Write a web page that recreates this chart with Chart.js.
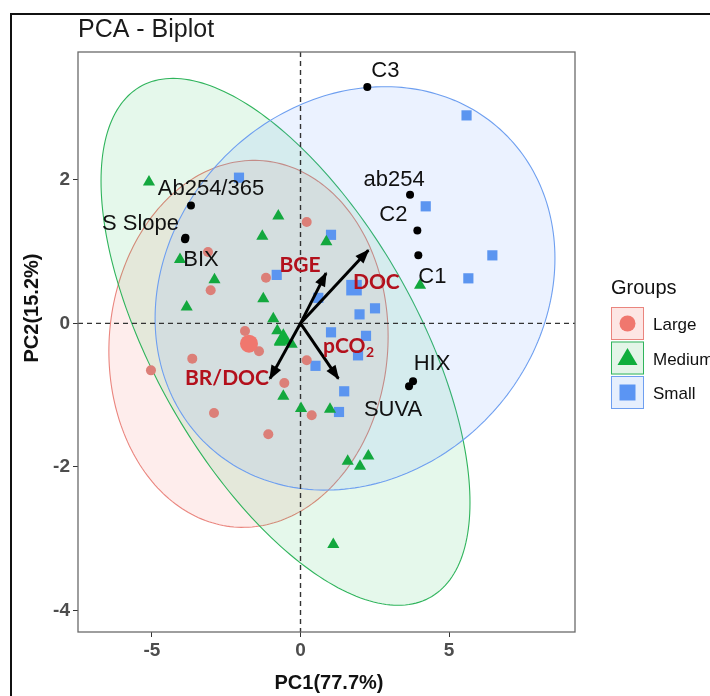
<!DOCTYPE html>
<html><head><meta charset="utf-8">
<script src="https://cdn.jsdelivr.net/npm/chart.js@4.4.0/dist/chart.umd.min.js"></script>
<style>html,body{margin:0;padding:0;background:#fff;}canvas{display:block;}</style>
</head><body>
<canvas id="c" width="710" height="696"></canvas>
<script>
// ---------- data (PC1, PC2 scores) ----------
const groupNames = ['Large', 'Medium', 'Small'];

const largeX = [0.209, -1.162, -3.024, -3.114, -1.869, -1.397, -3.643, -5.034, -0.545, -2.912, -1.084, 0.209, 0.377];
const largeY = [1.411, 0.636, 0.460, 0.993, -0.107, -0.390, -0.492, -0.655, -0.831, -1.249, -1.546, -0.515, -1.281];

const mediumX = [-5.101, -0.747, -1.286, 0.869, -4.057, -2.896, -1.253, -3.832, -0.916, -0.781, -0.690, -0.296, -0.579, 0.017, 0.993, 1.589, 2.003, 2.283, 1.104, 4.024];
const mediumY = [1.968, 1.494, 1.212, 1.135, 0.891, 0.606, 0.344, 0.227, 0.065, -0.104, -0.265, -0.292, -1.017, -1.188, -1.198, -1.922, -1.992, -1.848, -3.082, 0.529];

const smallX = [-2.071, -0.801, 1.027, 0.599, 5.589, 4.215, 6.458, 5.650, 2.508, 1.987, 1.027, 2.205, 1.936, 0.505, 1.471, 1.296];
const smallY = [2.029, 0.675, 1.233, 0.355, 2.897, 1.630, 0.947, 0.627, 0.209, 0.125, -0.125, -0.174, -0.446, -0.592, -0.947, -1.235];

// group means (large markers)
const meanX = [-1.734, -0.579, 1.801];
const meanY = [-0.283, -0.223, 0.497];

// concentration ellipses: centre, half-extent along PC1 / PC2, correlation
const ellCX = [-1.751, -0.505, 1.835];
const ellCY = [-0.286, -0.258, 0.487];
const ellSX = [4.70, 6.21, 6.73];
const ellSY = [2.556, 3.67, 2.81];
const ellR  = [0.04, -0.61, 0.149];

// variables shown as points
const varNames = ['C3', 'ab254', 'C2', 'C1', 'HIX', 'SUVA', 'Ab254/365', 'S Slope', 'BIX'];
const varX = [2.249, 3.687, 3.933, 3.966, 3.788, 3.653, -3.687, -3.872, -3.889];
const varY = [3.291, 1.792, 1.295, 0.947, -0.808, -0.877, 1.643, 1.191, 1.170];

// variables shown as arrows
const arrowNames = ['BGE', 'DOC', 'BR/DOC', 'pCO2'];
const arrowX = [0.859, 2.283, -1.027, 1.273];
const arrowY = [0.700, 1.017, -0.770, -0.770];

// axis ticks
const xTickValues = [-5, 0, 5];
const yTickValues = [-4, -2, 0, 2];

// ---------- styling (not data) ----------
const varLabelOffsets = [[18,-16],[-16,-15],[-24,-15],[14,22],[19,-17],[-16,24],[20,-16],[-45,-14],[16,21]];
const arrowLabelOffsets = [[-26,-8],[8,32],[-43,0],[10,-32]];
const ptColors = ['#dc7f78', '#13a83e', '#5b95f0'];
const meanColors = ['#f0776e', '#0fae3c', '#5b95f3'];
const ellFill = ['rgba(248,118,109,0.13)', 'rgba(0,186,56,0.10)', 'rgba(97,156,255,0.13)'];
const ellStroke = ['#ea857e', '#2fb45c', '#6e9ff0'];
const keyFill = ['#fde6e4', '#e3f5e8', '#e6effd'];
const styles = ['circle', 'triangle', 'rect'];
const ptRad = [5, 7, 7.2];
const meanRad = [9, 11, 11];
const SANS = '"Liberation Sans", Arial, sans-serif';

function pts(xs, ys) { return xs.map((v, i) => ({x: v, y: ys[i]})); }

const datasets = [];
const grpX = [largeX, mediumX, smallX], grpY = [largeY, mediumY, smallY];
for (let g = 0; g < 3; g++) {
  datasets.push({type: 'scatter', label: groupNames[g], data: pts(grpX[g], grpY[g]),
    pointStyle: styles[g], pointRadius: ptRad[g], backgroundColor: ptColors[g], borderWidth: 0, order: 5});
}
for (let g = 0; g < 3; g++) {
  datasets.push({type: 'scatter', label: groupNames[g] + ' mean', data: [{x: meanX[g], y: meanY[g]}],
    pointStyle: styles[g], pointRadius: meanRad[g], backgroundColor: meanColors[g], borderWidth: 0, order: 4});
}
arrowNames.forEach((n, i) => {
  datasets.push({type: 'line', label: n, data: [{x: 0, y: 0}, {x: arrowX[i], y: arrowY[i]}],
    borderColor: '#000', borderWidth: 3, pointRadius: 0, fill: false, order: 2});
});
datasets.push({type: 'scatter', label: 'variables', data: pts(varX, varY), pointStyle: 'circle',
  pointRadius: 4, backgroundColor: '#000', borderWidth: 0, order: 1});

const biplot = {
  id: 'biplot',
  beforeDatasetsDraw(chart) {
    const {ctx, chartArea: a, scales: {x, y}} = chart;
    ctx.save();
    ctx.beginPath(); ctx.rect(a.left, a.top, a.right - a.left, a.bottom - a.top); ctx.clip();
    for (let g = 0; g < 3; g++) {
      ctx.beginPath();
      const q = Math.sqrt(1 - ellR[g] * ellR[g]);
      for (let i = 0; i <= 240; i++) {
        const t = i / 240 * 2 * Math.PI;
        const ex = ellCX[g] + ellSX[g] * Math.cos(t);
        const ey = ellCY[g] + ellSY[g] * (ellR[g] * Math.cos(t) + q * Math.sin(t));
        const px = x.getPixelForValue(ex), py = y.getPixelForValue(ey);
        if (i) ctx.lineTo(px, py); else ctx.moveTo(px, py);
      }
      ctx.closePath();
      ctx.fillStyle = ellFill[g]; ctx.fill();
      ctx.strokeStyle = ellStroke[g]; ctx.lineWidth = 1.1; ctx.stroke();
    }
    const x0 = x.getPixelForValue(0), y0 = y.getPixelForValue(0);
    ctx.setLineDash([5, 4]); ctx.strokeStyle = '#333'; ctx.lineWidth = 1.4;
    ctx.beginPath();
    ctx.moveTo(x0, a.top); ctx.lineTo(x0, a.bottom);
    ctx.moveTo(a.left, y0); ctx.lineTo(a.right, y0);
    ctx.stroke();
    ctx.restore();
  },
  afterDatasetsDraw(chart) {
    const {ctx, scales: {x, y}} = chart;
    ctx.save();
    const ox = x.getPixelForValue(0), oy = y.getPixelForValue(0);
    // arrow heads
    arrowNames.forEach((n, i) => {
      const tx = x.getPixelForValue(arrowX[i]), ty = y.getPixelForValue(arrowY[i]);
      const ang = Math.atan2(ty - oy, tx - ox);
      const L = 13, W = 5.5;
      ctx.beginPath();
      ctx.moveTo(tx + 1.5 * Math.cos(ang), ty + 1.5 * Math.sin(ang));
      ctx.lineTo(tx - L * Math.cos(ang) + W * Math.sin(ang), ty - L * Math.sin(ang) - W * Math.cos(ang));
      ctx.lineTo(tx - L * Math.cos(ang) - W * Math.sin(ang), ty - L * Math.sin(ang) + W * Math.cos(ang));
      ctx.closePath(); ctx.fillStyle = '#000'; ctx.fill();
    });
    // variable labels
    ctx.fillStyle = '#111'; ctx.font = '22px ' + SANS; ctx.textAlign = 'center'; ctx.textBaseline = 'middle';
    varNames.forEach((n, i) => {
      ctx.fillText(n, x.getPixelForValue(varX[i]) + varLabelOffsets[i][0], y.getPixelForValue(varY[i]) + varLabelOffsets[i][1]);
    });
    // arrow labels
    ctx.fillStyle = '#b3101c';
    arrowNames.forEach((n, i) => {
      const cx = x.getPixelForValue(arrowX[i]) + arrowLabelOffsets[i][0];
      const cy = y.getPixelForValue(arrowY[i]) + arrowLabelOffsets[i][1];
      if (n === 'pCO2') {
        ctx.font = 'bold 21px Lato, ' + SANS;
        const w1 = ctx.measureText('pCO').width;
        ctx.font = 'bold 14px Lato, ' + SANS;
        const w2 = ctx.measureText('2').width;
        const left = cx - (w1 + w2) / 2;
        ctx.textAlign = 'left';
        ctx.font = 'bold 21px Lato, ' + SANS; ctx.fillText('pCO', left, cy);
        ctx.font = 'bold 14px Lato, ' + SANS; ctx.fillText('2', left + w1 + 0.5, cy + 6);
        ctx.textAlign = 'center';
      } else {
        ctx.font = 'bold 21px Lato, ' + SANS;
        ctx.fillText(n, cx, cy);
      }
    });
    ctx.restore();
  },
  afterDraw(chart) {
    const {ctx, chartArea: a} = chart;
    ctx.save();
    // panel border
    ctx.strokeStyle = '#6a6a6a'; ctx.lineWidth = 1.3;
    ctx.strokeRect(a.left, a.top, a.right - a.left, a.bottom - a.top);
    // outer frame
    ctx.strokeStyle = '#111'; ctx.lineWidth = 2;
    ctx.beginPath(); ctx.moveTo(11, 696); ctx.lineTo(11, 14); ctx.lineTo(710, 14); ctx.stroke();
    // title
    ctx.fillStyle = '#1a1a1a'; ctx.font = '25px ' + SANS; ctx.textAlign = 'left'; ctx.textBaseline = 'alphabetic';
    ctx.fillText('PCA - Biplot', 78, 37);
    // axis titles
    ctx.font = 'bold 20px ' + SANS; ctx.textAlign = 'center'; ctx.textBaseline = 'middle'; ctx.fillStyle = '#111';
    ctx.fillText('PC1(77.7%)', 329, 683);
    ctx.save(); ctx.translate(32, 308); ctx.rotate(-Math.PI / 2); ctx.fillText('PC2(15.2%)', 0, 0); ctx.restore();
    // legend
    ctx.textAlign = 'left'; ctx.fillStyle = '#111'; ctx.font = '20px ' + SANS;
    ctx.fillText('Groups', 611, 288);
    const tops = [307, 341.5, 376];
    for (let g = 0; g < 3; g++) {
      const bx = 611, by = tops[g], bw = 33, bh = 33;
      ctx.fillStyle = keyFill[g]; ctx.fillRect(bx, by, bw, bh);
      ctx.strokeStyle = ellStroke[g]; ctx.lineWidth = 1; ctx.strokeRect(bx + 0.5, by + 0.5, bw - 1, bh - 1);
      const cx = bx + bw / 2, cy = by + bh / 2;
      ctx.fillStyle = meanColors[g];
      ctx.beginPath();
      if (g === 0) { ctx.arc(cx, cy, 8, 0, 2 * Math.PI); }
      else if (g === 1) { ctx.moveTo(cx, cy - 10); ctx.lineTo(cx + 10, cy + 7); ctx.lineTo(cx - 10, cy + 7); ctx.closePath(); }
      else { ctx.rect(cx - 8, cy - 8, 16, 16); }
      ctx.fill();
      ctx.fillStyle = '#111'; ctx.font = '17px ' + SANS;
      ctx.fillText(groupNames[g], 653, cy + 2);
    }
    ctx.restore();
  }
};

new Chart(document.getElementById('c'), {
  data: {datasets},
  options: {
    responsive: false, animation: false, devicePixelRatio: 1,
    layout: {padding: {top: 52, right: 135, left: 0, bottom: 0}},
    plugins: {legend: {display: false}, tooltip: {enabled: false}, title: {display: false}},
    scales: {
      x: {type: 'linear', min: -7.49, max: 9.24,
        afterBuildTicks: s => { s.ticks = xTickValues.map(v => ({value: v})); },
        afterFit: s => { s.height = 64; },
        grid: {display: true, drawOnChartArea: false, drawTicks: true, tickLength: 5, tickColor: '#333'},
        border: {display: false},
        ticks: {color: '#4d4d4d', font: {family: SANS, size: 19, weight: 'bold'}, padding: 2, maxRotation: 0}
      },
      y: {type: 'linear', min: -4.30, max: 3.78,
        afterBuildTicks: s => { s.ticks = yTickValues.map(v => ({value: v})); },
        afterFit: s => { s.width = 78; },
        grid: {display: true, drawOnChartArea: false, drawTicks: true, tickLength: 5, tickColor: '#333'},
        border: {display: false},
        ticks: {color: '#4d4d4d', font: {family: SANS, size: 19, weight: 'bold'}, padding: 3}
      }
    }
  },
  plugins: [biplot]
});
</script>
</body></html>
